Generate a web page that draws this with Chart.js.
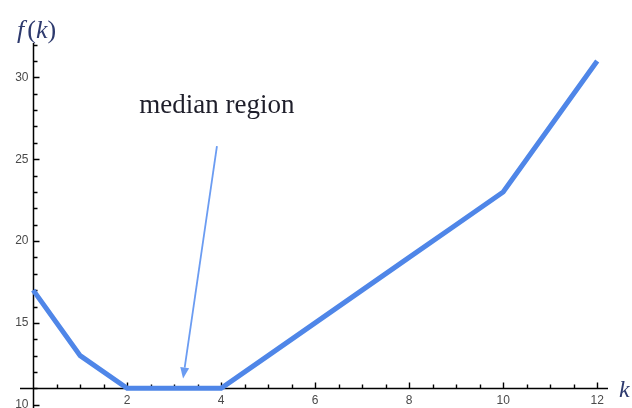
<!DOCTYPE html>
<html lang="en">
<head>
  <meta charset="UTF-8">
  <title>f(k) median region</title>
  <script src="https://cdn.jsdelivr.net/npm/chart.js"></script>
  <style>
    html, body { margin: 0; padding: 0; background: #fff; }
    .wrap { width: 632px; height: 408px; position: relative; }
  </style>
</head>
<body>
  <div class="wrap">
    <canvas id="chart"></canvas>
  </div>

  <script>
    // Data
    const kValues = [0, 1, 2, 3, 4, 5, 6, 7, 8, 9, 10, 11, 12];
    const fValues = [17, 13, 11, 11, 11, 13, 15, 17, 19, 21, 23, 27, 31];
    const xTicks = [2, 4, 6, 8, 10, 12];
    const yTicks = [10, 15, 20, 25, 30];

    // annotation (data coordinates)
    const noteText = 'median region';
    const notePos = { x: 3.91, y: 27.8 };
    const arrowFrom = { x: 3.91, y: 25.8 };
    const arrowTo = { x: 3.19, y: 11.6 };

    const xMin = -0.28, xMax = 12.23;
    const yMin = 9.8, yMax = 32.1;
    const xOrigin = 0, yOrigin = 11;

    // draws Mathematica-like axes crossing at (0, 11)
    const axesPlugin = {
      id: 'axes',
      beforeDatasetsDraw(chart) {
        const ctx = chart.ctx;
        const area = chart.chartArea;
        const xs = chart.scales.x, ys = chart.scales.y;
        const x0 = Math.round(xs.getPixelForValue(xOrigin)) + 0.5;
        const y0 = Math.round(ys.getPixelForValue(yOrigin)) + 0.5;

        ctx.save();
        ctx.strokeStyle = '#000';
        ctx.lineWidth = 1.5;
        ctx.beginPath();
        ctx.moveTo(area.left, y0);
        ctx.lineTo(area.right, y0);
        ctx.moveTo(x0, area.top);
        ctx.lineTo(x0, chart.height);
        ctx.stroke();

        // x ticks (inward = up)
        ctx.lineWidth = 1.4;
        ctx.beginPath();
        for (let v = 0.5; v <= 12.001; v += 0.5) {
          const px = Math.round(xs.getPixelForValue(v)) + 0.5;
          const len = xTicks.includes(v) ? 6 : 4;
          ctx.moveTo(px, y0);
          ctx.lineTo(px, y0 - len);
        }
        // y ticks (inward = right)
        for (let v = 10; v <= 32; v += 1) {
          const py = Math.round(ys.getPixelForValue(v)) + 0.5;
          const len = yTicks.includes(v) ? 6 : 4;
          ctx.moveTo(x0, py);
          ctx.lineTo(x0 + len, py);
        }
        ctx.stroke();

        // tick labels
        ctx.fillStyle = '#4a4a4a';
        ctx.font = '12px "Liberation Sans", Arial, sans-serif';
        ctx.textAlign = 'center';
        ctx.textBaseline = 'top';
        xTicks.forEach(v => {
          ctx.fillText(String(v), xs.getPixelForValue(v), y0 + 6);
        });
        ctx.textAlign = 'right';
        ctx.textBaseline = 'middle';
        yTicks.forEach(v => {
          ctx.fillText(String(v), x0 - 5, ys.getPixelForValue(v));
        });

        // axis labels: f and k italic, parentheses upright
        ctx.fillStyle = '#2e3a6e';
        ctx.textAlign = 'left';
        ctx.textBaseline = 'alphabetic';
        const it = 'italic 26px "Liberation Serif", "Times New Roman", serif';
        const up = '26px "Liberation Serif", "Times New Roman", serif';
        let lx = 17;
        [['f', it], ['(', up], ['k', it], [')', up]].forEach(([s, f]) => {
          ctx.font = f;
          ctx.fillText(s, lx, 38);
          lx += ctx.measureText(s).width + (s === 'f' ? 3 : 0);
        });
        ctx.font = 'italic 24px "Liberation Serif", "Times New Roman", serif';
        ctx.fillText('k', 619, 397);
        ctx.restore();
      },
      afterDatasetsDraw(chart) {
        const ctx = chart.ctx;
        const xs = chart.scales.x, ys = chart.scales.y;

        // annotation text
        ctx.save();
        ctx.fillStyle = '#1e1e2a';
        ctx.font = '27px "Liberation Serif", "Times New Roman", serif';
        ctx.textAlign = 'center';
        ctx.textBaseline = 'alphabetic';
        ctx.fillText(noteText, xs.getPixelForValue(notePos.x), ys.getPixelForValue(notePos.y));

        // arrow
        const ax = xs.getPixelForValue(arrowFrom.x), ay = ys.getPixelForValue(arrowFrom.y);
        const bx = xs.getPixelForValue(arrowTo.x), by = ys.getPixelForValue(arrowTo.y);
        const ang = Math.atan2(by - ay, bx - ax);
        const headLen = 11, headW = 4.5;
        const hx = bx - headLen * Math.cos(ang), hy = by - headLen * Math.sin(ang);
        ctx.strokeStyle = '#6b9cf2';
        ctx.fillStyle = '#6b9cf2';
        ctx.lineWidth = 1.8;
        ctx.beginPath();
        ctx.moveTo(ax, ay);
        ctx.lineTo(hx, hy);
        ctx.stroke();
        ctx.beginPath();
        ctx.moveTo(bx, by);
        ctx.lineTo(hx + headW * Math.sin(ang), hy - headW * Math.cos(ang));
        ctx.lineTo(hx - headW * Math.sin(ang), hy + headW * Math.cos(ang));
        ctx.closePath();
        ctx.fill();
        ctx.restore();
      }
    };

    const ctx = document.getElementById('chart').getContext('2d');
    const chart = new Chart(ctx, {
      type: 'line',
      data: {
        datasets: [{
          label: 'f(k)',
          data: kValues.map((k, i) => ({ x: k, y: fValues[i] })),
          borderColor: '#4f86e8',
          borderWidth: 5,
          pointRadius: 0,
          tension: 0,
          fill: false
        }]
      },
      options: {
        responsive: true,
        maintainAspectRatio: false,
        animation: false,
        layout: { padding: { left: 20, right: 24, top: 43, bottom: 0 } },
        plugins: {
          legend: { display: false },
          tooltip: { enabled: false }
        },
        scales: {
          x: { type: 'linear', min: xMin, max: xMax, display: false },
          y: { type: 'linear', min: yMin, max: yMax, display: false }
        }
      },
      plugins: [axesPlugin]
    });
  </script>
</body>
</html>
